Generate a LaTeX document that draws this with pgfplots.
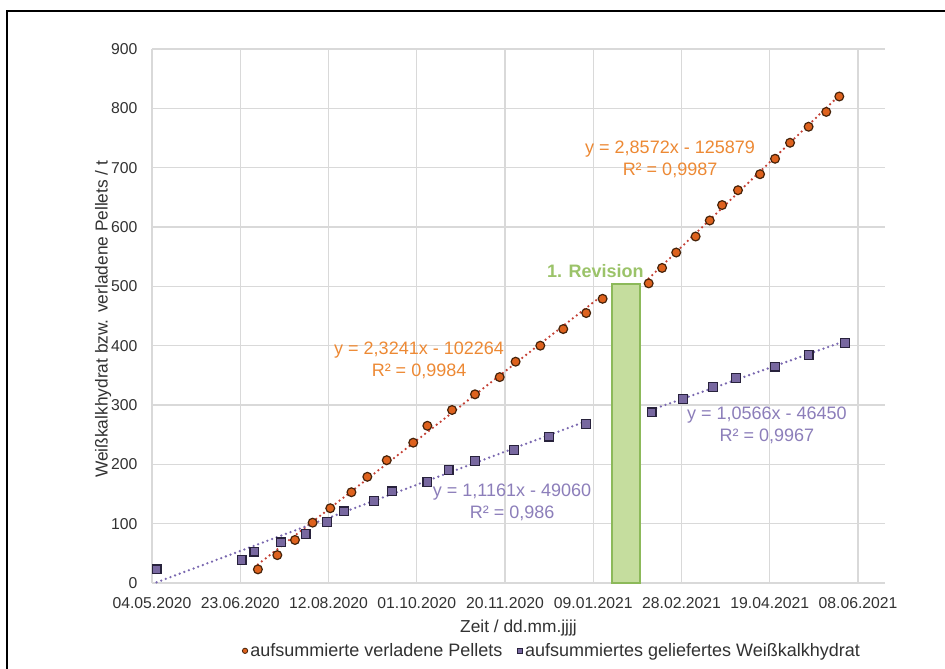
\documentclass[border=0pt]{standalone}
\usepackage{fontspec}
\setmainfont{Liberation Sans}
\usepackage{pgfplots}
\usepackage{pgfplotstable}
\pgfplotsset{compat=1.18}
\definecolor{gridc}{RGB}{217,217,217}
\definecolor{orfill}{RGB}{222,98,30}
\definecolor{ordraw}{RGB}{70,35,10}
\definecolor{ortrend}{RGB}{196,64,52}
\definecolor{ortext}{RGB}{237,137,52}
\definecolor{pufill}{RGB}{120,104,160}
\definecolor{pudraw}{RGB}{40,34,60}
\definecolor{putrend}{RGB}{122,104,176}
\definecolor{putext}{RGB}{140,126,186}
\definecolor{grfill}{RGB}{197,221,158}
\definecolor{grdraw}{RGB}{140,185,90}
\definecolor{grtext}{RGB}{155,195,105}
\definecolor{txt}{RGB}{50,50,50}

% x = days since 04.05.2020
\pgfplotstableread{
d y
60 23
71 47
81 72.5
91 101.7
101 126
113 153
122 179
133 207
148 236.5
156 265
170 291.6
183 318
197 347
206 373
220 400
233 428
246 455
255.3 479
281.4 505
289 531
297 557
308 584
316 611
323 637
332 662
344.5 689
353 715
361.5 742
372 769
382 794
389.4 820
}\pellets

\pgfplotstableread{
d y
2.6 23
50.8 38.8
58 52.8
73 68.6
87 83
99 102.8
108.8 120.8
125.8 138
136 154.5
156 170
168 190
183 206
205 224
225 246.6
246 267.5
283 287.7
301 310
318 330
331 345.5
353 364.6
372 384
392.5 405
}\kalk

\begin{document}
\begin{tikzpicture}
\useasboundingbox (0,0) rectangle (708.75pt,501pt);
\fill[white] (0,0) rectangle (708.75pt,501pt);
\draw[black, line width=0.8pt] (5.25pt,-5pt) -- (5.25pt,492.75pt) -- (715pt,492.75pt);
\begin{axis}[
  at={(114pt,63.75pt)}, anchor=south west,
  scale only axis, width=549.75pt, height=400.5pt,
  xmin=0, xmax=415.3, ymin=0, ymax=900,
  xtick={0,50,...,400},
  xticklabels={04.05.2020,23.06.2020,12.08.2020,01.10.2020,20.11.2020,09.01.2021,28.02.2021,19.04.2021,08.06.2021},
  ytick={0,100,...,900},
  grid=major, major grid style={gridc, line width=1pt},
  axis line style={draw=none}, major tick length=0pt,
  /pgf/number format/assume math mode=true,
  tick label style={font=\fontsize{11.8}{13}\selectfont, text=txt},
  xticklabel style={yshift=-7pt},
  yticklabel style={xshift=-7.4pt},
  xlabel={Zeit / dd.mm.jjjj},
  xlabel style={at={(axis description cs:0.5,-0.0918)}, anchor=base, font=\fontsize{13}{15}\selectfont, text=txt},
  ylabel={Weißkalkhydrat bzw. verladene Pellets / t},
  ylabel style={at={(axis description cs:-0.0668,0.494)}, anchor=center, font=\fontsize{13}{15}\selectfont, text=txt},
  legend style={at={(axis description cs:0.5464,-0.127)}, anchor=center, draw=none, fill=none,
    font=\fontsize{13.5}{15}\selectfont, text=txt, legend columns=2,
    /tikz/every even column/.append style={column sep=9pt},
    /tikz/every odd column/.append style={column sep=0pt}},
  legend cell align=left,
  clip=false,
]
% revision bar
\addplot[fill=grfill, draw=grdraw, line width=1.2pt, forget plot] coordinates {(260.5,0) (276.5,0) (276.5,503.5) (260.5,503.5)} -- cycle;
% trendlines
\addplot[ortrend, line width=1.9pt, line cap=round, dash pattern=on 0pt off 3.7pt, forget plot] coordinates {(60,31.3) (255.3,485.2)};
\addplot[ortrend, line width=1.9pt, line cap=round, dash pattern=on 0pt off 3.7pt, forget plot] coordinates {(281.4,513.2) (389.4,821.8)};
\addplot[putrend, line width=1.9pt, line cap=round, dash pattern=on 0pt off 3.7pt, forget plot] coordinates {(2.6,1.1) (246,272.7)};
\addplot[putrend, line width=1.9pt, line cap=round, dash pattern=on 0pt off 3.7pt, forget plot] coordinates {(283,291.9) (392.5,407.6)};
% data
\addplot[only marks, mark=*, mark size=3.3pt, mark options={fill=orfill, draw=ordraw, line width=0.9pt},
  legend image code/.code={\draw[mark=*, mark size=2pt, mark options={fill=orfill, draw=ordraw, line width=0.6pt}] plot coordinates {(0cm,0cm)};}]
  table[x=d, y=y] {\pellets};
\addlegendentry{aufsummierte verladene Pellets}
\addplot[only marks, mark=square*, mark size=3.3pt, mark options={fill=pufill, draw=pudraw, line width=0.9pt},
  legend image code/.code={\draw[mark=square*, mark size=2pt, mark options={fill=pufill, draw=pudraw, line width=0.6pt}] plot coordinates {(0cm,0cm)};}]
  table[x=d, y=y] {\kalk};
\addlegendentry{aufsummiertes geliefertes Weißkalkhydrat}
% labels
\node[text=ortext, align=center, font=\fontsize{13.5}{16.5}\selectfont] at (axis cs:293.5,714.6) {y = 2,8572x - 125879\\R² = 0,9987};
\node[text=ortext, align=center, font=\fontsize{13.5}{16.5}\selectfont] at (axis cs:151.3,375.9) {y = 2,3241x - 102264\\R² = 0,9984};
\node[text=putext, align=center, font=\fontsize{13.5}{16.5}\selectfont] at (axis cs:204,136.5) {y = 1,1161x - 49060\\R² = 0,986};
\node[text=putext, align=center, font=\fontsize{13.5}{16.5}\selectfont] at (axis cs:348.4,266.3) {y = 1,0566x - 46450\\R² = 0,9967};
\node[text=grtext, font=\bfseries\fontsize{13.5}{15}\selectfont] at (axis cs:251.2,525.9) {1. Revision};
\end{axis}
\end{tikzpicture}
\end{document}
